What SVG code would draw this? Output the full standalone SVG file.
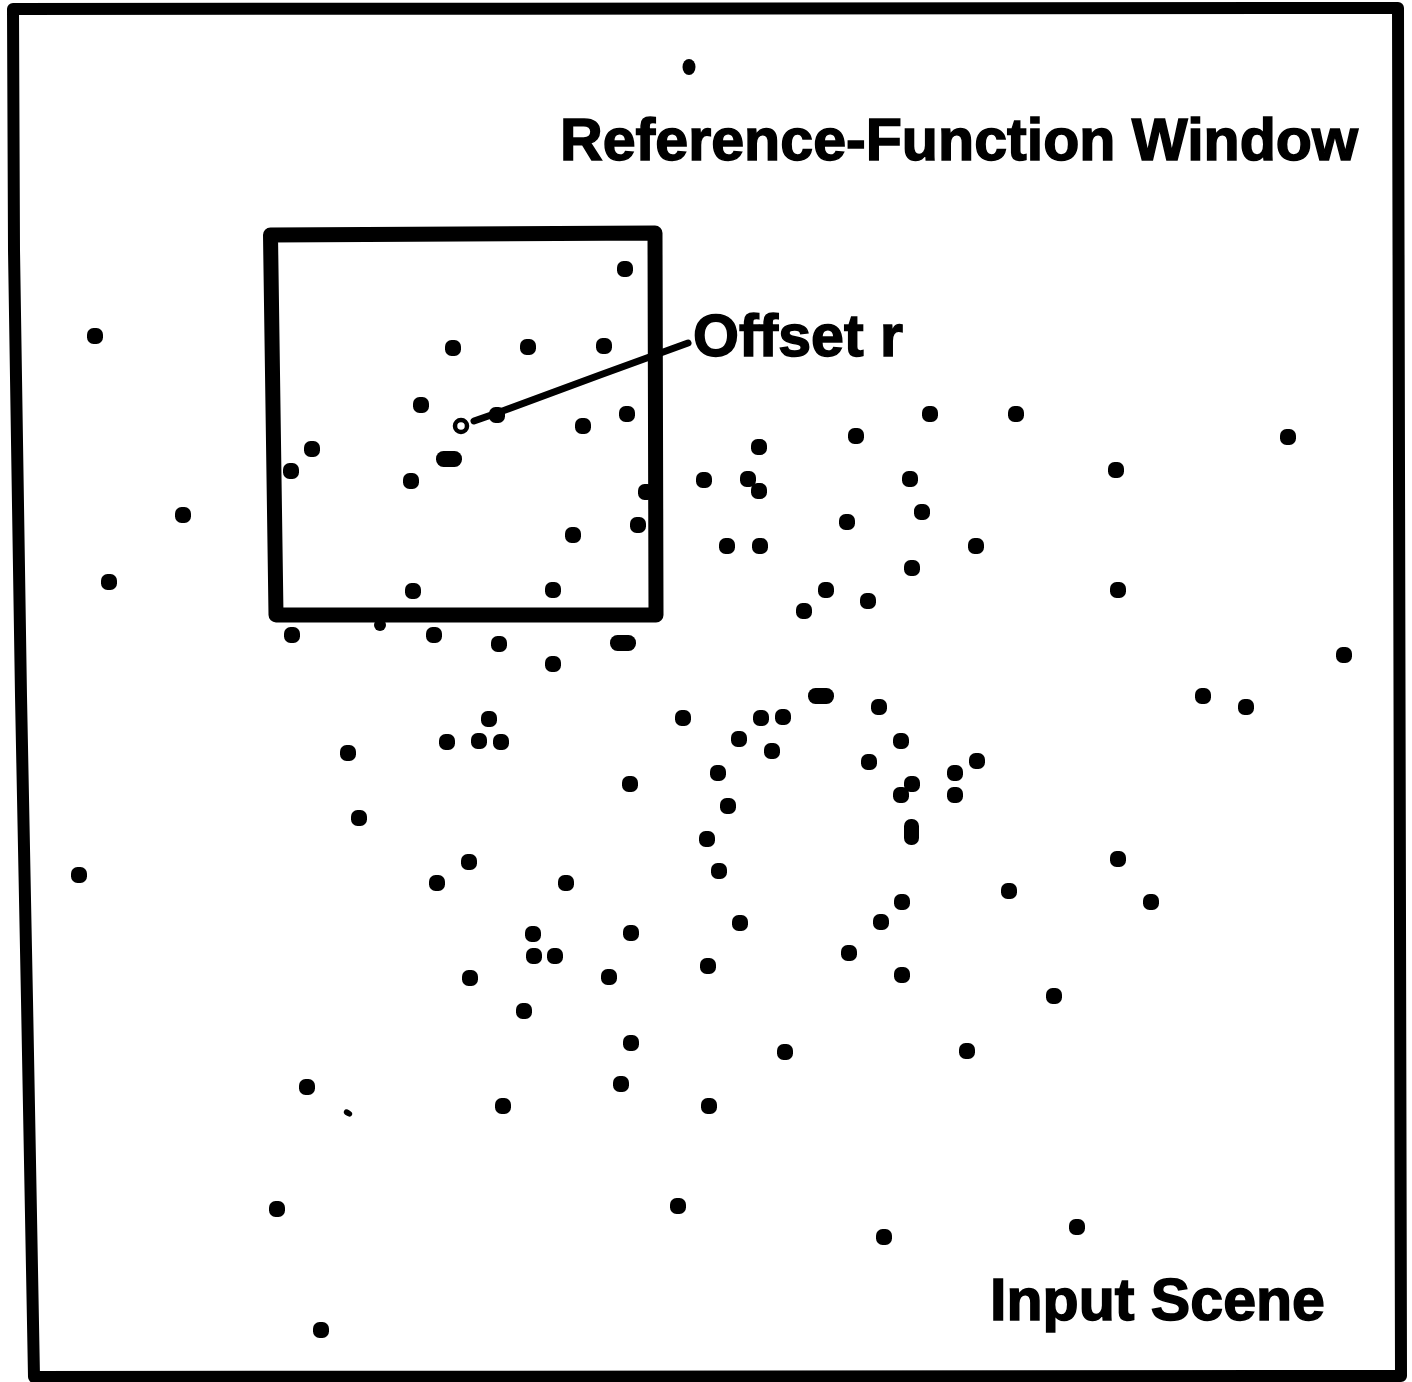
<svg xmlns="http://www.w3.org/2000/svg" width="1412" height="1382" viewBox="0 0 1412 1382">
<style>
.d{fill:#000}
.lbl{font-family:"Liberation Sans",Arial,sans-serif;font-weight:bold;font-size:59px;fill:#000;stroke:#000;stroke-width:1.5px}
.frame{fill:none;stroke:#000;stroke-linejoin:round}
</style>
<defs>
<rect id="dot" x="-8" y="-8" width="16" height="16" rx="6.5"/>
</defs>
<rect width="1412" height="1382" fill="#fff"/>
<g id="input-scene-frame">
<path class="frame" stroke-width="12" d="M13,9 L1398,8 L1401,1376 L34,1377 L27,1000 L21,696 L14,250 Z"/>
</g>
<g id="dots" class="d">
<ellipse cx="689" cy="67" rx="6.5" ry="8"/>
<use href="#dot" x="95" y="336"/>
<use href="#dot" x="625" y="269"/>
<use href="#dot" x="453" y="348"/>
<use href="#dot" x="528" y="347"/>
<use href="#dot" x="604" y="346"/>
<use href="#dot" x="421" y="405"/>
<use href="#dot" x="627" y="414"/>
<use href="#dot" x="583" y="426"/>
<use href="#dot" x="497" y="415"/>
<use href="#dot" x="312" y="449"/>
<use href="#dot" x="291" y="471"/>
<rect x="436" y="451" width="26" height="16" rx="7.5"/>
<use href="#dot" x="411" y="481"/>
<use href="#dot" x="646" y="492"/>
<use href="#dot" x="638" y="525"/>
<use href="#dot" x="573" y="535"/>
<use href="#dot" x="413" y="591"/>
<use href="#dot" x="553" y="590"/>
<use href="#dot" x="183" y="515"/>
<use href="#dot" x="109" y="582"/>
<use href="#dot" x="292" y="635"/>
<circle cx="380" cy="625" r="6"/>
<use href="#dot" x="434" y="635"/>
<use href="#dot" x="499" y="644"/>
<use href="#dot" x="553" y="664"/>
<rect x="610" y="635" width="26" height="16" rx="7.5"/>
<use href="#dot" x="759" y="447"/>
<use href="#dot" x="856" y="436"/>
<use href="#dot" x="930" y="414"/>
<use href="#dot" x="1016" y="414"/>
<use href="#dot" x="1288" y="437"/>
<use href="#dot" x="704" y="480"/>
<use href="#dot" x="748" y="479"/>
<use href="#dot" x="759" y="491"/>
<use href="#dot" x="910" y="479"/>
<use href="#dot" x="1116" y="470"/>
<use href="#dot" x="922" y="512"/>
<use href="#dot" x="847" y="522"/>
<use href="#dot" x="727" y="546"/>
<use href="#dot" x="760" y="546"/>
<use href="#dot" x="976" y="546"/>
<use href="#dot" x="912" y="568"/>
<use href="#dot" x="826" y="590"/>
<use href="#dot" x="804" y="611"/>
<use href="#dot" x="868" y="601"/>
<use href="#dot" x="1118" y="590"/>
<use href="#dot" x="1344" y="655"/>
<rect x="808" y="688" width="26" height="16" rx="7.5"/>
<use href="#dot" x="879" y="707"/>
<use href="#dot" x="1203" y="696"/>
<use href="#dot" x="1246" y="707"/>
<use href="#dot" x="683" y="718"/>
<use href="#dot" x="761" y="718"/>
<use href="#dot" x="783" y="717"/>
<use href="#dot" x="489" y="719"/>
<use href="#dot" x="447" y="742"/>
<use href="#dot" x="479" y="741"/>
<use href="#dot" x="501" y="742"/>
<use href="#dot" x="739" y="739"/>
<use href="#dot" x="772" y="751"/>
<use href="#dot" x="901" y="741"/>
<use href="#dot" x="348" y="753"/>
<use href="#dot" x="869" y="762"/>
<use href="#dot" x="977" y="761"/>
<use href="#dot" x="955" y="773"/>
<use href="#dot" x="912" y="784"/>
<use href="#dot" x="901" y="795"/>
<use href="#dot" x="955" y="795"/>
<use href="#dot" x="630" y="784"/>
<use href="#dot" x="718" y="773"/>
<use href="#dot" x="728" y="806"/>
<rect x="904" y="819" width="15" height="26" rx="7"/>
<use href="#dot" x="359" y="818"/>
<use href="#dot" x="707" y="839"/>
<use href="#dot" x="719" y="871"/>
<use href="#dot" x="469" y="862"/>
<use href="#dot" x="437" y="883"/>
<use href="#dot" x="566" y="883"/>
<use href="#dot" x="79" y="875"/>
<use href="#dot" x="1118" y="859"/>
<use href="#dot" x="1009" y="891"/>
<use href="#dot" x="1151" y="902"/>
<use href="#dot" x="902" y="902"/>
<use href="#dot" x="881" y="922"/>
<use href="#dot" x="740" y="923"/>
<use href="#dot" x="533" y="934"/>
<use href="#dot" x="631" y="933"/>
<use href="#dot" x="534" y="956"/>
<use href="#dot" x="555" y="956"/>
<use href="#dot" x="849" y="953"/>
<use href="#dot" x="708" y="966"/>
<use href="#dot" x="470" y="978"/>
<use href="#dot" x="609" y="977"/>
<use href="#dot" x="902" y="975"/>
<use href="#dot" x="1054" y="996"/>
<use href="#dot" x="524" y="1011"/>
<use href="#dot" x="631" y="1043"/>
<use href="#dot" x="785" y="1052"/>
<use href="#dot" x="967" y="1051"/>
<use href="#dot" x="307" y="1087"/>
<use href="#dot" x="621" y="1084"/>
<ellipse cx="348" cy="1113" rx="4.5" ry="3" transform="rotate(30 348 1113)"/>
<use href="#dot" x="503" y="1106"/>
<use href="#dot" x="709" y="1106"/>
<use href="#dot" x="277" y="1209"/>
<use href="#dot" x="678" y="1206"/>
<use href="#dot" x="1077" y="1227"/>
<use href="#dot" x="884" y="1237"/>
<use href="#dot" x="321" y="1330"/>
</g>
<g id="reference-window">
<path class="frame" stroke-width="15" d="M270.5,235 L655,233 L656,615 L276,615 Z"/>
</g>
<g id="connectors">
<circle id="origin" cx="461" cy="426" r="6" fill="#fff" stroke="#000" stroke-width="4.5"/>
<path d="M474,421 L497,413 L600,375 L688,343" fill="none" stroke="#000" stroke-width="7" stroke-linecap="round" stroke-linejoin="round"/>
</g>
<g id="labels">
<text class="lbl" x="560" y="160" textLength="798" lengthAdjust="spacingAndGlyphs">Reference-Function Window</text>
<text class="lbl" x="693" y="356" textLength="210" lengthAdjust="spacingAndGlyphs">Offset r</text>
<text class="lbl" x="990" y="1320" textLength="335" lengthAdjust="spacingAndGlyphs">Input Scene</text>
</g>
</svg>
